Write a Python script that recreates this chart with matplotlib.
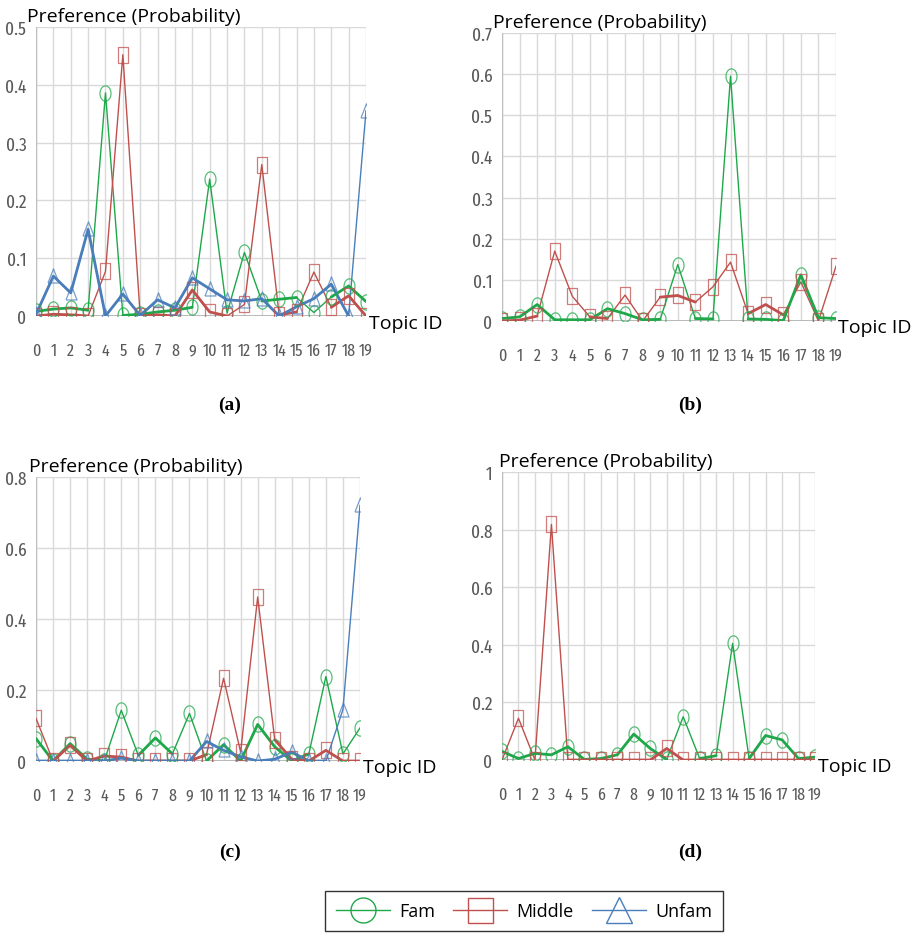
import numpy as np
import matplotlib
matplotlib.use("Agg")
import matplotlib.pyplot as plt
from matplotlib.lines import Line2D

topics = list(range(20))

# (a)
a_fam    = [0.008, 0.012, 0.014, 0.010, 0.386, 0.001, 0.003, 0.007, 0.010, 0.015,
            0.237, 0.005, 0.110, 0.026, 0.029, 0.032, 0.006, 0.033, 0.052, 0.025]
a_middle = [0.000, 0.003, 0.002, 0.000, 0.077, 0.452, 0.000, 0.002, 0.000, 0.045,
            0.007, 0.000, 0.020, 0.262, 0.002, 0.007, 0.076, 0.015, 0.035, 0.000]
a_unfam  = [0.003, 0.069, 0.040, 0.150, 0.000, 0.038, 0.001, 0.028, 0.014, 0.066,
            0.047, 0.028, 0.026, 0.030, 0.000, 0.016, 0.030, 0.055, 0.000, 0.355]

# (b)
b_fam    = [0.006, 0.010, 0.040, 0.003, 0.003, 0.003, 0.030, 0.018, 0.003, 0.004,
            0.137, 0.006, 0.005, 0.595, 0.005, 0.004, 0.001, 0.112, 0.008, 0.006]
b_middle = [0.000, 0.002, 0.012, 0.170, 0.060, 0.010, 0.006, 0.063, 0.000, 0.058,
            0.062, 0.046, 0.083, 0.143, 0.018, 0.040, 0.015, 0.095, 0.000, 0.133]

# (c)
c_fam    = [0.063, 0.000, 0.049, 0.005, 0.000, 0.143, 0.016, 0.065, 0.020, 0.134,
            0.000, 0.046, 0.000, 0.103, 0.040, 0.000, 0.020, 0.238, 0.020, 0.093]
c_middle = [0.120, 0.000, 0.044, 0.000, 0.014, 0.011, 0.000, 0.000, 0.000, 0.000,
            0.018, 0.233, 0.025, 0.462, 0.060, 0.005, 0.000, 0.030, 0.000, 0.000]
c_unfam  = [0.000, 0.000, 0.000, 0.000, 0.000, 0.008, 0.000, 0.000, 0.000, 0.000,
            0.055, 0.030, 0.012, 0.000, 0.005, 0.025, 0.000, 0.000, 0.145, 0.720]

# (d)
d_fam    = [0.030, 0.005, 0.023, 0.018, 0.046, 0.002, 0.005, 0.018, 0.090, 0.040,
            0.002, 0.150, 0.005, 0.015, 0.405, 0.005, 0.085, 0.070, 0.005, 0.010]
d_middle = [0.000, 0.145, 0.000, 0.818, 0.000, 0.000, 0.000, 0.000, 0.000, 0.000,
            0.040, 0.000, 0.000, 0.000, 0.000, 0.000, 0.000, 0.000, 0.000, 0.000]

# topic ranges drawn with the heavy line
a_fam_thick    = [(0, 3), (5, 9), (13, 15), (17, 19)]
a_middle_thick = [(0, 3), (6, 11), (14, 15), (17, 19)]
a_unfam_thick  = [(0, 18)]
b_fam_thick    = [(0, 9), (11, 12), (14, 19)]
b_middle_thick = [(0, 2), (5, 6), (9, 11), (14, 16)]
c_fam_thick    = [(0, 4), (6, 8), (10, 16)]
c_middle_thick = [(1, 10), (14, 19)]
c_unfam_thick  = [(0, 17)]
d_fam_thick    = [(0, 10), (12, 13), (15, 19)]
d_middle_thick = [(4, 19)]

series_names = ["Fam", "Middle", "Unfam"]
GREEN, RED, BLUE = "#1ea84a", "#c0504d", "#4a7ebb"

W, H = 917, 937
NARROW = ["Fira Sans Extra Condensed", "Roboto Condensed", "Asap Condensed",
          "Archivo Narrow", "DejaVu Sans"]
SANS = ["Open Sans", "DejaVu Sans"]

# squashed marker shapes (the source image is compressed horizontally)
t = np.linspace(0, 2 * np.pi, 41)
ELLIPSE = np.column_stack([0.72 * np.cos(t), np.sin(t)])
SQUARE = [(-0.68, -1), (0.68, -1), (0.68, 1), (-0.68, 1), (-0.68, -1)]
TRIANGLE = [(-0.72, -0.85), (0.72, -0.85), (0, 1), (-0.72, -0.85)]


def px_rect(l, t_, r, b):
    return [l / W, 1 - b / H, (r - l) / W, (b - t_) / H]


def fig_text(fig, x, y, s, **kw):
    fig.text(x / W, 1 - y / H, s, **kw)


def draw_series(ax, vals, thick, color, marker):
    x = np.array(topics)
    y = np.array(vals)
    ax.plot(x, y, color=color, lw=1.0, zorder=3)
    for s, e in thick:
        ax.plot(x[s:e + 1], y[s:e + 1], color=color, lw=2.0, zorder=4,
                solid_capstyle="round")
    ax.plot(x, y, ls="none", marker=marker, markersize=11, mfc="none",
            mec=color, mew=0.9, alpha=0.75, zorder=5)


def setup_axes(ax, ymax, ystep):
    ax.set_xlim(0, 19)
    ax.set_ylim(0, ymax)
    ax.set_xticks(topics)
    ticks = np.arange(0, ymax + 1e-9, ystep)
    ax.set_yticks(ticks)
    ax.set_yticklabels([f"{v:g}" for v in ticks])
    ax.grid(True, color="#d9d9d9", lw=1.0)
    ax.set_axisbelow(True)
    for sp in ax.spines.values():
        sp.set_visible(False)
    ax.axhline(0, color="#a6a6a6", lw=1.8, zorder=2)
    ax.axvline(0, color="#bfbfbf", lw=1.0, zorder=2)
    ax.tick_params(length=0, labelcolor="#595959")
    ax.tick_params(axis="x", pad=19)
    ax.tick_params(axis="y", pad=7)
    for lab in ax.get_xticklabels():
        lab.set_fontfamily(NARROW)
        lab.set_fontsize(12.5)
    for lab in ax.get_yticklabels():
        lab.set_fontfamily(NARROW)
        lab.set_fontsize(13.5)


fig = plt.figure(figsize=(W / 100, H / 100), dpi=100)

panels = [
    # rect px, ymax, step, series, title pos, topic pos, caption pos, caption
    ((36, 28, 366, 317), 0.5, 0.1,
     [(a_fam, a_fam_thick, GREEN, ELLIPSE), (a_middle, a_middle_thick, RED, SQUARE),
      (a_unfam, a_unfam_thick, BLUE, TRIANGLE)],
     (27, 22), (369, 324), (230, 405), "(a)"),
    ((502, 34, 836, 322), 0.7, 0.1,
     [(b_fam, b_fam_thick, GREEN, ELLIPSE), (b_middle, b_middle_thick, RED, SQUARE)],
     (493, 28), (838, 328), (690, 405), "(b)"),
    ((36, 478, 360, 762), 0.8, 0.2,
     [(c_fam, c_fam_thick, GREEN, ELLIPSE), (c_middle, c_middle_thick, RED, SQUARE),
      (c_unfam, c_unfam_thick, BLUE, TRIANGLE)],
     (29, 472), (363, 768), (230, 852), "(c)"),
    ((502, 473, 815, 761), 1.0, 0.2,
     [(d_fam, d_fam_thick, GREEN, ELLIPSE), (d_middle, d_middle_thick, RED, SQUARE)],
     (499, 467), (818, 767), (690, 852), "(d)"),
]

for rect, ymax, step, series, tpos, xpos, cpos, cap in panels:
    ax = fig.add_axes(px_rect(*rect))
    setup_axes(ax, ymax, step)
    for vals, thick, color, marker in series:
        draw_series(ax, vals, thick, color, marker)
    fig_text(fig, tpos[0], tpos[1], "Preference (Probability)", fontsize=14,
             family=SANS, va="baseline", ha="left")
    fig_text(fig, xpos[0], xpos[1], "Topic ID", fontsize=14, family=SANS,
             va="center", ha="left")
    fig_text(fig, cpos[0], cpos[1], cap, fontsize=14, family="Liberation Serif",
             fontweight="bold", ha="center", va="center")

handles = [
    Line2D([], [], color=GREEN, lw=1.0, marker="o", markersize=18, mfc="none", mew=1.0),
    Line2D([], [], color=RED, lw=1.0, marker="s", markersize=18, mfc="none", mew=1.0),
    Line2D([], [], color=BLUE, lw=1.0, marker="^", markersize=19, mfc="none", mew=1.0),
]
leg = fig.legend(handles, series_names, loc="center", ncol=3,
                 bbox_to_anchor=(524 / W, 1 - 912 / H), frameon=True, fancybox=False,
                 edgecolor="black", prop={"family": SANS, "size": 13},
                 handlelength=3.0, columnspacing=1.0, handletextpad=0.5,
                 borderpad=0.6)
leg.get_frame().set_linewidth(1.0)

fig.savefig("out.png", dpi=100)
